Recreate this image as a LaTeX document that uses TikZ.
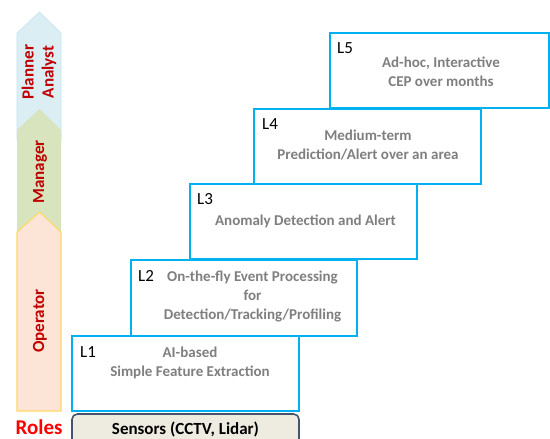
\documentclass[tikz,border=0pt]{standalone}
\usepackage{fontspec}
\setmainfont{Carlito}
\definecolor{boxblue}{HTML}{00B0F0}
\definecolor{stepgray}{HTML}{7F7F7F}
\definecolor{rolered}{HTML}{C00000}
\definecolor{plannerfill}{HTML}{DAEEF3}
\definecolor{plannerline}{HTML}{C5E3EE}
\definecolor{managerfill}{HTML}{D7E4BD}
\definecolor{operatorfill}{HTML}{FCE4D6}
\definecolor{operatorline}{HTML}{FFD966}
\definecolor{sensorfill}{HTML}{EEECE1}
\definecolor{sensorline}{HTML}{44546A}
\tikzset{
levelbox/.style={draw=boxblue, line width=1.5pt, fill=white, minimum height=56.25pt, inner sep=0pt},
leveltag/.style={font=\fontsize{12.75}{14}\selectfont},
leveltext/.style={text=stepgray, font=\bfseries\fontsize{11.25}{14.25}\selectfont, align=center},
roletext/.style={text=rolered, font=\bfseries\fontsize{12.75}{15}\selectfont, rotate=90, align=center}
}
\begin{document}
\begin{tikzpicture}[x=0.75pt,y=-0.75pt]
\useasboundingbox (0,0) rectangle (550,439);

\draw[draw=plannerline, fill=plannerfill] (17,33) -- (39.5,12) -- (61,33) -- (61,140) -- (17,140) -- cycle;
\fill[managerfill] (17,130) -- (39.5,109) -- (61,130) -- (61,240) -- (17,240) -- cycle;
\draw[draw=operatorline, fill=operatorfill, line width=0.8pt] (17,232) -- (39.5,212) -- (61,232) -- (61,411) -- (17,411) -- cycle;
\node (planner) at (39,72) [roletext] {Planner\\Analyst};
\node (manager) at (40,172) [roletext] {Manager};
\node (operator) at (40,321) [roletext] {Operator};
\node (roles) at (39,427) [text=red, font=\bfseries\fontsize{15.75}{18}\selectfont] {Roles};

\node (sensors) at (185.5,429) [draw=sensorline, line width=1.2pt, fill=sensorfill, rounded corners=4pt, minimum width=170.25pt, minimum height=22.5pt, font=\bfseries\fontsize{12.75}{15}\selectfont] {Sensors (CCTV, Lidar)};

\node (l1) at (185.5,373.5) [levelbox, minimum width=170.25pt] {};
\node (t1) at (88,352) [leveltag] {L1};
\node (x1) at (190,363) [leveltext] {AI-based\\Simple Feature Extraction};

\node (l2) at (244,298) [levelbox, minimum width=169.5pt, minimum height=57pt] {};
\node (t2) at (146,276) [leveltag] {L2};
\node (x2) at (252.5,297) [leveltext] {On-the-fly Event Processing\\for\\Detection/Tracking/Profiling};

\node (l3) at (303.5,221.5) [levelbox, minimum width=170.25pt] {};
\node (t3) at (205,199) [leveltag] {L3};
\node (x3) at (305.5,221) [leveltext] {Anomaly Detection and Alert};

\node (l4) at (367.5,146.5) [levelbox, minimum width=170.25pt] {};
\node (t4) at (270,124) [leveltag] {L4};
\node (x4) at (368,145) [leveltext] {Medium-term\\Prediction/Alert over an area};

\node (l5) at (439.5,70.5) [levelbox, minimum width=164.25pt] {};
\node (t5) at (345,48) [leveltag] {L5};
\node (x5) at (441,71.5) [leveltext] {Ad-hoc, Interactive\\CEP over months};
\end{tikzpicture}
\end{document}
